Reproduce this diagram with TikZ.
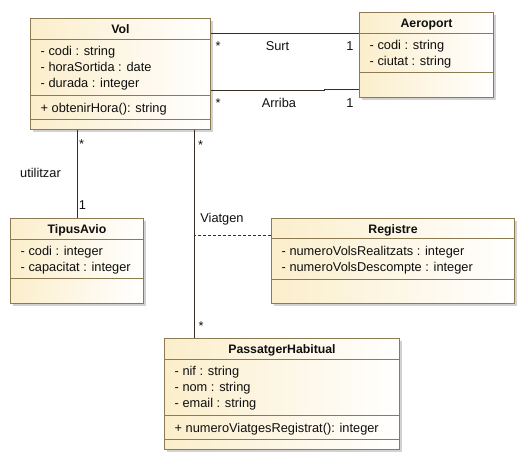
\documentclass[tikz,border=0pt]{standalone}
\usepackage{fontspec}
\setmainfont{Liberation Sans}
\usetikzlibrary{calc,shadows}
\definecolor{colBord}{RGB}{140,122,82}
\definecolor{colFond}{RGB}{251,238,203}
\definecolor{colLigne}{RGB}{55,45,35}
\definecolor{colTexte}{RGB}{15,15,15}

\begin{document}
\begin{tikzpicture}[x=1pt, y=-1pt, font=\fontsize{12.8}{16}\selectfont, text=colTexte,
    cls/.style={rectangle, draw=colBord, line width=1pt, left color=colFond,
      right color=white, anchor=north west, inner sep=0pt,
      drop shadow={shadow xshift=2pt, shadow yshift=-2pt, fill=black!35, opacity=0.5}},
    ttl/.style={font=\fontsize{12.3}{16}\selectfont\bfseries, anchor=base},
    att/.style={anchor=north west, align=left, inner sep=0pt},
    sep/.style={draw=colBord, line width=1pt},
    lk/.style={draw=colLigne, line width=1pt},
    lbl/.style={anchor=base, inner sep=0pt}]
  \useasboundingbox (0,0) rectangle (526,461);
  % classes
  \node[cls, minimum width=180pt, minimum height=111pt] (vol) at (30,18) {};
  \node[cls, minimum width=134pt, minimum height=85pt] (aero) at (359,12) {};
  \node[cls, minimum width=133pt, minimum height=85pt] (tipus) at (10,218) {};
  \node[cls, minimum width=243pt, minimum height=85pt] (reg) at (271,218) {};
  \node[cls, minimum width=235pt, minimum height=111pt] (ph) at (164,338) {};
  \foreach \c/\d in {vol/21, vol/77, vol/101, aero/21, aero/60, tipus/21, tipus/60,
      reg/20, reg/61, ph/21, ph/77, ph/101}
    \draw[sep] ($(\c.north west)+(0,\d)$) -- ($(\c.north east)+(0,\d)$);
  % texts
  \node[ttl] (vol-t) at ($(vol.north)+(0,15)$) {Vol};
  \node[att] (vol-a) at ($(vol.north west)+(10.5,27.6)$)
    {- codi : string\\- horaSortida : date\\- durada : integer};
  \node[att] (vol-o) at ($(vol.north west)+(10.5,84.6)$) {+ obtenirHora(): string};
  \node[ttl] (aero-t) at ($(aero.north)+(0,15)$) {Aeroport};
  \node[att] (aero-a) at ($(aero.north west)+(10.5,27.6)$)
    {- codi : string\\- ciutat : string};
  \node[ttl] (tipus-t) at ($(tipus.north)+(0,15)$) {TipusAvio};
  \node[att] (tipus-a) at ($(tipus.north west)+(10.5,27.6)$)
    {- codi : integer\\- capacitat : integer};
  \node[ttl] (reg-t) at ($(reg.north)+(0,15)$) {Registre};
  \node[att] (reg-a) at ($(reg.north west)+(10.5,27.6)$)
    {- numeroVolsRealitzats : integer\\- numeroVolsDescompte : integer};
  \node[ttl] (ph-t) at ($(ph.north)+(0,15)$) {PassatgerHabitual};
  \node[att] (ph-a) at ($(ph.north west)+(10.5,27.6)$)
    {- nif : string\\- nom : string\\- email : string};
  \node[att] (ph-o) at ($(ph.north west)+(10.5,84.6)$)
    {+ numeroViatgesRegistrat(): integer};
  % associations
  \draw[lk] ($(aero.north west)+(0,21)$) coordinate (surtA) -- (surtA -| vol.east);
  \draw[lk] ($(vol.north east)+(0,72)$) -- ++(113,0) -- ++(0,-1)
    -- ($(aero.north west)+(0,77)$);
  \draw[lk] (tipus.north) -- (tipus.north |- vol.south);
  \draw[lk] ($(ph.north west)+(30,0)$) coordinate (phA) -- (phA |- vol.south);
  \draw[lk, line width=0.8pt, dash pattern=on 3pt off 2pt]
    ($(reg.north west)+(0,17)$) coordinate (regA) -- (regA -| phA);
  % labels
  \node[lbl] (surt-m1) at (218,50) {*};
  \node[lbl] (surt-n) at (277.5,50) {Surt};
  \node[lbl] (surt-m2) at (350,50) {1};
  \node[lbl] (arr-m1) at (218,107) {*};
  \node[lbl] (arr-n) at (279,107) {Arriba};
  \node[lbl] (arr-m2) at (350,107) {1};
  \node[lbl] (util-m1) at (81.5,148) {*};
  \node[lbl] (util-m2) at (82.5,209) {1};
  \node[lbl] (util-n) at (40.5,177) {utilitzar};
  \node[lbl] (viat-m1) at (200.5,149) {*};
  \node[lbl] (viat-m2) at (201,330) {*};
  \node[lbl] (viat-n) at (222,222) {Viatgen};
\end{tikzpicture}
\end{document}
